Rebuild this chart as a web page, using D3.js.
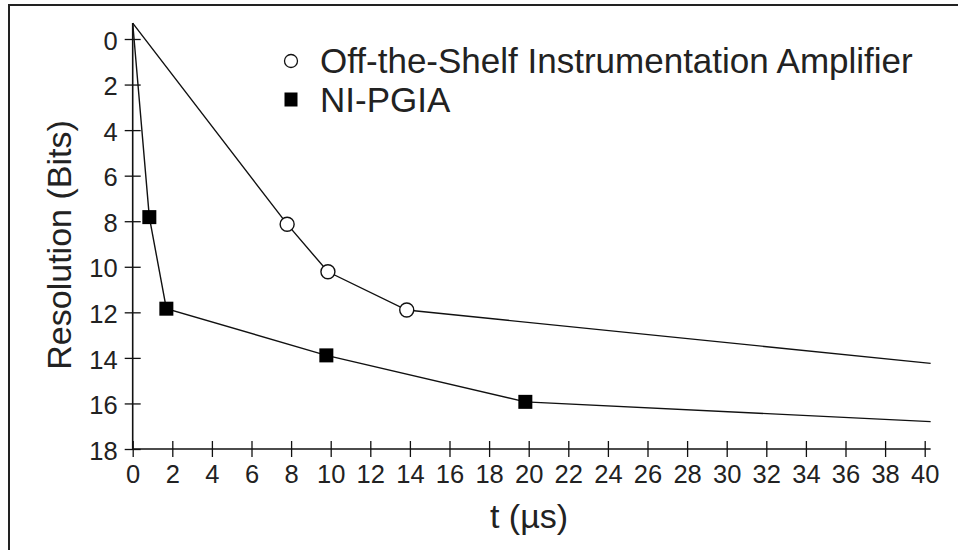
<!DOCTYPE html>
<html>
<head>
<meta charset="utf-8">
<script src="https://cdn.jsdelivr.net/npm/d3@7"></script>
<style>
  body { margin: 0; background: #fff; }
  text { font-family: "Liberation Sans", Arial, sans-serif; fill: #222; }
</style>
</head>
<body>
<div id="chart"></div>
<script>
/* data */
var shelfT = [0, 7.8, 9.86, 13.84, 40.3],
    shelfBits = [-0.7, 8.13, 10.22, 11.9, 14.24];
var pgiaT = [0, 0.84, 1.7, 9.78, 19.83, 40.3],
    pgiaBits = [-0.7, 7.82, 11.84, 13.89, 15.93, 16.8];
var xTicks = d3.range(0, 41, 2),
    yTicks = d3.range(0, 19, 2);
var seriesNames = ["Off-the-Shelf Instrumentation Amplifier", "NI-PGIA"];
var xLabel = "t (\u00b5s)",
    yLabel = "Resolution (Bits)";

var width = 958,
    height = 550;

var svg = d3.select("#chart")
            .append("svg")
            .attr("width", width)
            .attr("height", height);

/* frame */
svg.append("path")
    .attr("d", "M9,550V5H958")
    .attr("fill", "none")
    .attr("stroke", "#222")
    .attr("stroke-width", 2);

/* scales: 0 -> 39px, 18 -> 449px */
var x = d3.scaleLinear().domain([0, 40]).range([132.7, 924.7]),
    y = d3.scaleLinear().domain([0, 18]).range([39, 449]);

/* x axis */
var xAxis = d3.axisBottom(x).tickValues(xTicks).tickSize(8);
var gx = svg.append("g")
    .attr("transform", "translate(0," + y(18) + ")")
    .call(xAxis);
gx.select(".domain").remove();
gx.append("line")
    .attr("x1", x(0)).attr("x2", x(40.3))
    .attr("stroke", "#111").attr("stroke-width", 1.6);
gx.selectAll(".tick line")
    .attr("y1", -8).attr("y2", 8)
    .attr("stroke", "#111").attr("stroke-width", 1.3);
gx.selectAll(".tick text")
    .attr("y", 34).attr("dy", null)
    .attr("font-size", 25.5)
    .attr("font-family", "Liberation Sans, Arial, sans-serif")
    .attr("fill", "#222");

/* y axis */
var yAxis = d3.axisLeft(y).tickValues(yTicks).tickSize(8);
var gy = svg.append("g")
    .attr("transform", "translate(" + x(0) + ",0)")
    .call(yAxis);
gy.select(".domain").remove();
gy.append("line")
    .attr("y1", y(-0.7)).attr("y2", y(18))
    .attr("stroke", "#111").attr("stroke-width", 1.6);
gy.selectAll(".tick line")
    .attr("x1", -8).attr("x2", 8)
    .attr("stroke", "#111").attr("stroke-width", 1.3);
gy.selectAll(".tick text")
    .attr("x", -15).attr("dy", "0.4em")
    .attr("font-size", 25.5)
    .attr("font-family", "Liberation Sans, Arial, sans-serif")
    .attr("fill", "#222");

/* axis titles */
svg.append("text")
    .attr("transform", "translate(71," + 245 + ")rotate(-90)")
    .attr("text-anchor", "middle")
    .attr("font-size", 34)
    .text(yLabel);

svg.append("text")
    .attr("x", 529)
    .attr("y", 528)
    .attr("text-anchor", "middle")
    .attr("font-size", 34)
    .text(xLabel);

/* lines */
var line = d3.line()
    .x(function(d) { return x(d[0]); })
    .y(function(d) { return y(d[1]); });

var shelf = d3.zip(shelfT, shelfBits),
    pgia = d3.zip(pgiaT, pgiaBits);

[shelf, pgia].forEach(function(s) {
    svg.append("path")
        .attr("d", line(s))
        .attr("fill", "none")
        .attr("stroke", "#111")
        .attr("stroke-width", 1.4);
});

/* markers (first and last points are line ends only) */
svg.selectAll("circle.pt")
    .data(shelf.slice(1, -1))
    .enter().append("circle")
        .attr("class", "pt")
        .attr("cx", function(d) { return x(d[0]); })
        .attr("cy", function(d) { return y(d[1]); })
        .attr("r", 7)
        .attr("fill", "#fff")
        .attr("stroke", "#111")
        .attr("stroke-width", 1.4);

var sq = 14;
svg.selectAll("rect.pt")
    .data(pgia.slice(1, -1))
    .enter().append("rect")
        .attr("class", "pt")
        .attr("x", function(d) { return x(d[0]) - sq / 2; })
        .attr("y", function(d) { return y(d[1]) - sq / 2; })
        .attr("width", sq)
        .attr("height", sq)
        .attr("fill", "#000");

/* legend */
var legend = svg.append("g")
    .selectAll("g")
    .data(seriesNames)
    .enter().append("g")
        .attr("transform", function(d, i) { return "translate(291," + (61 + i * 39) + ")"; });

legend.append("text")
    .attr("x", 29)
    .attr("y", 12)
    .attr("font-size", 35)
    .text(function(d) { return d; });

legend.filter(function(d, i) { return i === 0; })
    .append("circle")
    .attr("r", 6.5)
    .attr("fill", "#fff")
    .attr("stroke", "#111")
    .attr("stroke-width", 1.3);

legend.filter(function(d, i) { return i === 1; })
    .append("rect")
    .attr("x", -6.5).attr("y", -7.5)
    .attr("width", 13).attr("height", 14)
    .attr("fill", "#000");
</script>
</body>
</html>
